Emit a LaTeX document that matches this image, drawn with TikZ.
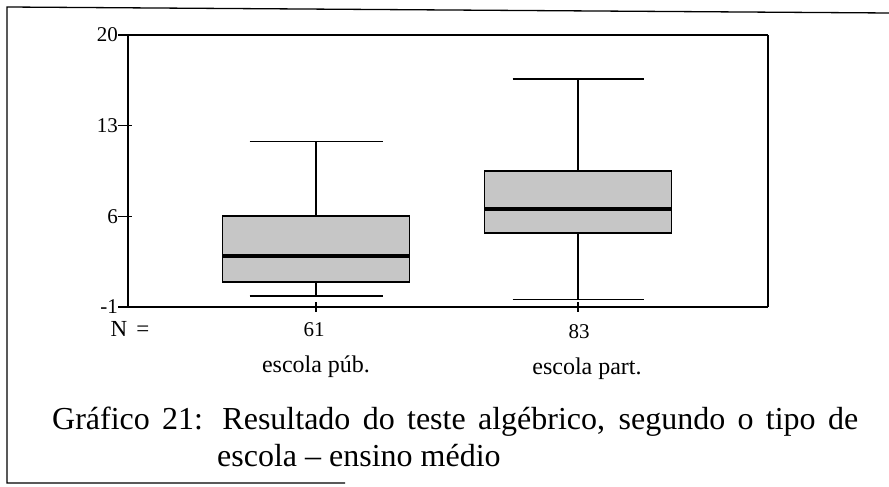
\documentclass[tikz,border=0pt]{standalone}
\usepackage{fontspec}
\setmainfont{Liberation Serif}
\usetikzlibrary{positioning}

\begin{document}
\begin{tikzpicture}[x=1pt, y=1pt, line cap=butt, line join=miter,
	axislab/.style={font=\fontsize{21}{23}\selectfont, inner sep=1pt},
	numlab/.style={font=\fontsize{21}{23}\selectfont, inner sep=1pt},
	catlab/.style={font=\fontsize{24}{26}\selectfont, inner sep=1pt},
	captext/.style={font=\fontsize{32}{34}\selectfont, inner sep=0pt, anchor=base west},
	boxfill/.style={draw=black, line width=1.8pt, fill=gray!45},
	whisk/.style={draw=black, line width=1.1pt},
	median/.style={draw=black, line width=4pt}]
	
	\useasboundingbox (0,0) rectangle (889,487);
	
	% outer frame (open on the right)
	\draw[line width=1.3pt] (889,474) -- (7,480) -- (7,4) -- (345,4);
	
	% plot area, values on the y axis
	\begin{scope}[shift={(0,192.95)}, y=12.952pt]
		\draw[line width=1.4pt] (128,20) -- (768,20);
		\draw[line width=1.2pt] (768,20) -- (768,-1);
		\draw[line width=1.4pt] (128,-1) -- (768,-1);
		\draw[line width=1.2pt] (128,-1) -- (128,20);
		
		% ticks and numbers of the y axis
		\foreach \v in {20,13,6,-1}{
			\draw[line width=1.4pt] (118,\v) -- (132,\v);
			\node[axislab, anchor=east] (lab\v) at (119,\v) {\v};
		}
		\draw[line width=1.2pt] (316,-1.35) -- (316,-0.65);
		\draw[line width=1.2pt] (578,-1.35) -- (578,-0.65);
		
		% escola pub.
		\begin{scope}[shift={(316,0)}]
			\draw[whisk] (-66.5,11.75) -- (66.5,11.75);
			\draw[whisk] (0,11.75) -- (0,6);
			\draw[whisk] (0,0.95) -- (0,-0.15);
			\draw[whisk] (-66.5,-0.15) -- (66.5,-0.15);
			\draw[boxfill] (-93.5,0.95) rectangle (93.5,6);
			\draw[median] (-93.5,2.95) -- (93.5,2.95);
		\end{scope}
		
		% escola part.
		\begin{scope}[shift={(578,0)}]
			\draw[whisk] (-65.5,16.6) -- (65.5,16.6);
			\draw[whisk] (0,16.6) -- (0,9.5);
			\draw[whisk] (0,4.7) -- (0,-0.4);
			\draw[whisk] (-65.5,-0.4) -- (65.5,-0.4);
			\draw[boxfill] (-93.5,4.7) rectangle (93.5,9.5);
			\draw[median] (-93.5,6.55) -- (93.5,6.55);
		\end{scope}
	\end{scope}
	
	% counts and groups under the axis
	\node[numlab, font=\fontsize{23}{25}\selectfont] (nlab) at (130,158) {N\hspace{9pt}=};
	\node[numlab] (npub) at (314,157) {61};
	\node[numlab] (npart) at (579,155) {83};
	\node[catlab] (gpub) at (316,120) {escola púb.};
	\node[catlab] (gpart) at (587,118) {escola part.};
	
	% caption
	\node[captext] (capA) at (52,57) {\makebox[806pt][s]{Gráfico 21: Resultado do teste algébrico, segundo o tipo de}};
	\node[captext] (capB) at (217,20) {escola -- ensino médio};
	
\end{tikzpicture}
\end{document}
